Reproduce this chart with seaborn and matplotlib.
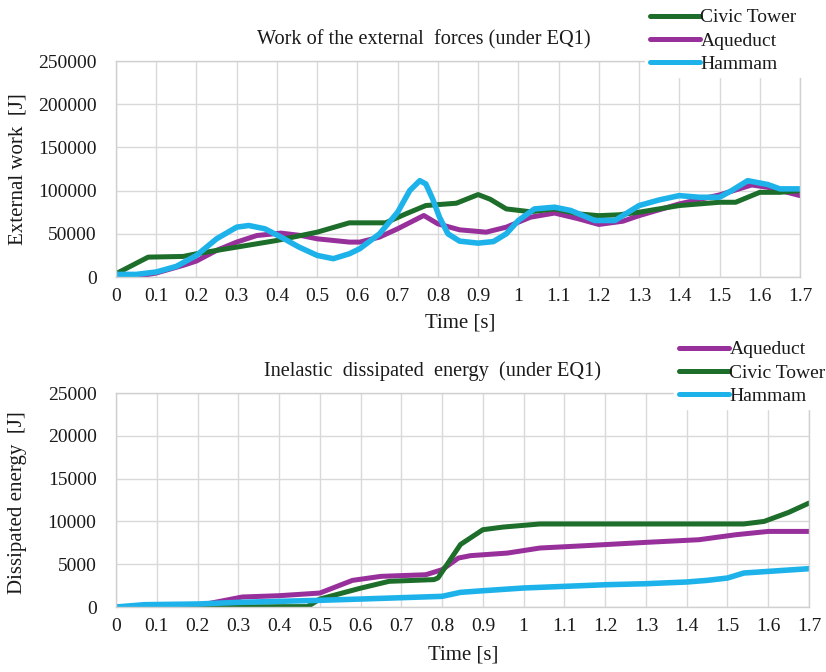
import numpy as np
import pandas as pd
import matplotlib
matplotlib.use("Agg")
import matplotlib.pyplot as plt
import seaborn as sns

# ---------------- data ----------------
# Top chart: work of the external forces [J]
civic_t = [0, 0.08, 0.167, 0.2, 0.3, 0.4, 0.5, 0.58, 0.67, 0.72, 0.77, 0.846, 0.9, 0.93,
           0.97, 1.03, 1.09, 1.15, 1.2, 1.25, 1.3, 1.4, 1.5, 1.54, 1.6, 1.65, 1.7]
civic_w = [3800, 23000, 23800, 26900, 34600, 42300, 51900, 62700, 62700, 73000, 82700,
           85400, 95400, 90000, 78800, 75500, 78800, 73000, 71000, 72000, 75000, 82700,
           86500, 86500, 98000, 98000, 100000]

aque_t = [0, 0.05, 0.1, 0.167, 0.2, 0.25, 0.3, 0.35, 0.41, 0.46, 0.5, 0.58, 0.606,
          0.655, 0.7, 0.765, 0.8, 0.854, 0.92, 0.97, 1.03, 1.09, 1.15, 1.2, 1.26, 1.3,
          1.4, 1.5, 1.58, 1.62, 1.7]
aque_w = [0, 500, 4600, 13500, 18500, 30800, 40400, 48000, 50800, 48000, 44200, 40400,
          40400, 46200, 55800, 71200, 61500, 54600, 51900, 57700, 69200, 74000, 67300,
          60800, 64600, 71000, 84600, 95000, 106500, 103800, 94200]

hamm_t = [0, 0.05, 0.1, 0.15, 0.2, 0.25, 0.3, 0.33, 0.37, 0.41, 0.455, 0.5, 0.54, 0.58,
          0.606, 0.655, 0.7, 0.73, 0.755, 0.77, 0.787, 0.804, 0.825, 0.854, 0.9, 0.938,
          0.97, 1.0, 1.04, 1.09, 1.13, 1.19, 1.24, 1.3, 1.35, 1.4, 1.45, 1.5, 1.53, 1.57,
          1.62, 1.65, 1.7]
hamm_w = [3000, 3000, 5800, 12300, 25000, 44200, 57700, 59600, 55800, 46200, 34600,
          25000, 21200, 26900, 32800, 50000, 75000, 100000, 111500, 107700, 90400, 69200,
          50000, 41500, 39200, 41000, 50000, 65400, 78800, 80800, 77000, 65400, 65400,
          82700, 89200, 94200, 92300, 92300, 100000, 111500, 107000, 102000, 102000]

# Bottom chart: inelastic dissipated energy [J]
civic_t2 = [0, 0.2, 0.47, 0.5, 0.6, 0.67, 0.78, 0.79, 0.845, 0.9, 0.95, 1.04, 1.54,
            1.59, 1.65, 1.7]
civic_e = [0, 0, 50, 930, 2200, 3000, 3200, 3400, 7300, 9030, 9340, 9700, 9700, 10000,
           11050, 12140]

aque_t2 = [0, 0.1, 0.2, 0.31, 0.4, 0.5, 0.58, 0.65, 0.76, 0.8, 0.84, 0.87, 0.96, 1.04,
           1.15, 1.3, 1.43, 1.52, 1.6, 1.7]
aque_e = [0, 100, 150, 1170, 1320, 1630, 3110, 3580, 3770, 4360, 5720, 6000, 6300, 6890,
          7160, 7550, 7860, 8440, 8830, 8830]

hamm_t2 = [0, 0.07, 0.2, 0.3, 0.5, 0.6, 0.8, 0.845, 0.9, 1.0, 1.1, 1.2, 1.3, 1.4, 1.45,
           1.5, 1.54, 1.6, 1.7]
hamm_e = [0, 270, 350, 540, 780, 930, 1245, 1710, 1900, 2220, 2410, 2600, 2720, 2920,
          3110, 3385, 3970, 4160, 4475]

x_ticks = [0, 0.1, 0.2, 0.3, 0.4, 0.5, 0.6, 0.7, 0.8, 0.9, 1.0, 1.1, 1.2, 1.3, 1.4,
           1.5, 1.6, 1.7]
x_labels = ["0", "0.1", "0.2", "0.3", "0.4", "0.5", "0.6", "0.7", "0.8", "0.9", "1",
            "1.1", "1.2", "1.3", "1.4", "1.5", "1.6", "1.7"]
y_ticks_top = [0, 50000, 100000, 150000, 200000, 250000]
y_ticks_bot = [0, 5000, 10000, 15000, 20000, 25000]

colors = {"Civic Tower": "#1d6e2a", "Aqueduct": "#98309b", "Hammam": "#1db3ea"}

# ---------------- style ----------------
sns.set_theme(style="whitegrid")
plt.rcParams["font.family"] = ["Liberation Serif", "DejaVu Serif"]
plt.rcParams["text.color"] = "#1a1a1a"

fig = plt.figure(figsize=(8.26, 6.72), dpi=100)
ax1 = fig.add_axes([116 / 826, 1 - 277 / 672, 684 / 826, 216 / 672])
ax2 = fig.add_axes([116 / 826, 1 - 607 / 672, 693 / 826, 214 / 672])

def long_df(series):
    rows = []
    for name, ts, vs in series:
        for t, v in zip(ts, vs):
            rows.append({"t": t, "v": v, "s": name})
    return pd.DataFrame(rows)

top_df = long_df([("Aqueduct", aque_t, aque_w), ("Civic Tower", civic_t, civic_w),
                  ("Hammam", hamm_t, hamm_w)])
bot_df = long_df([("Aqueduct", aque_t2, aque_e), ("Civic Tower", civic_t2, civic_e),
                  ("Hammam", hamm_t2, hamm_e)])

def draw(ax, df, ymax, yticks):
    for name in ["Aqueduct", "Civic Tower", "Hammam"]:
        sub = df[df["s"] == name]
        sns.lineplot(data=sub, x="t", y="v", ax=ax, color=colors[name], sort=False,
                     linewidth=4.0 if name == "Hammam" else 3.6, label=name,
                     legend=False, solid_joinstyle="round", solid_capstyle="round")
    ax.set_xlim(0, 1.7)
    ax.set_ylim(0, ymax)
    ax.set_xticks(x_ticks)
    ax.set_xticklabels(x_labels)
    ax.set_yticks(yticks)
    ax.set_yticklabels([str(v) for v in yticks])
    ax.grid(True, color="#d9d9d9", linewidth=1.0)
    for sp in ax.spines.values():
        sp.set_color("#d0d0d0")
        sp.set_linewidth(1.0)
    ax.tick_params(axis="both", length=0, labelsize=14, colors="#1a1a1a")
    ax.tick_params(axis="x", pad=8)
    ax.tick_params(axis="y", pad=14)
    ax.set_xlabel("")
    ax.set_ylabel("")

draw(ax1, top_df, 250000, y_ticks_top)
draw(ax2, bot_df, 25000, y_ticks_bot)

def make_legend(ax, order, anchor):
    hmap = {l.get_label(): l for l in ax.get_lines()}
    handles = [hmap[n] for n in order]
    leg = ax.legend(handles, order, loc="upper left", bbox_to_anchor=anchor,
                    bbox_transform=fig.transFigure, frameon=True, fontsize=14,
                    handlelength=2.6, handletextpad=0.0, labelspacing=0.28,
                    borderpad=0.25, borderaxespad=0)
    leg.get_frame().set_facecolor("white")
    leg.get_frame().set_edgecolor("white")
    leg.get_frame().set_alpha(1.0)
    for lh in leg.get_lines():
        lh.set_linewidth(3.6)

make_legend(ax1, ["Civic Tower", "Aqueduct", "Hammam"], (645 / 826, 1 - 4 / 672))
make_legend(ax2, ["Aqueduct", "Civic Tower", "Hammam"], (674 / 826, 1 - 336 / 672))

# titles and axis labels
fig.text(424 / 826, 1 - 40 / 672, "Work of the external  forces (under EQ1)",
         ha="center", va="center", fontsize=14.6)
fig.text(433 / 826, 1 - 371 / 672, "Inelastic  dissipated  energy  (under EQ1)",
         ha="center", va="center", fontsize=14.6)
fig.text(460 / 826, 1 - 323 / 672, "Time [s]", ha="center", va="center", fontsize=15)
fig.text(463 / 826, 1 - 655 / 672, "Time [s]", ha="center", va="center", fontsize=15)
fig.text(18 / 826, 1 - 169 / 672, "External work  [J]", ha="center", va="center",
         rotation=90, fontsize=15)
fig.text(18 / 826, 1 - 503 / 672, "Dissipated energy  [J]", ha="center", va="center",
         rotation=90, fontsize=15)

fig.savefig("out.png", dpi=100, facecolor="white")
